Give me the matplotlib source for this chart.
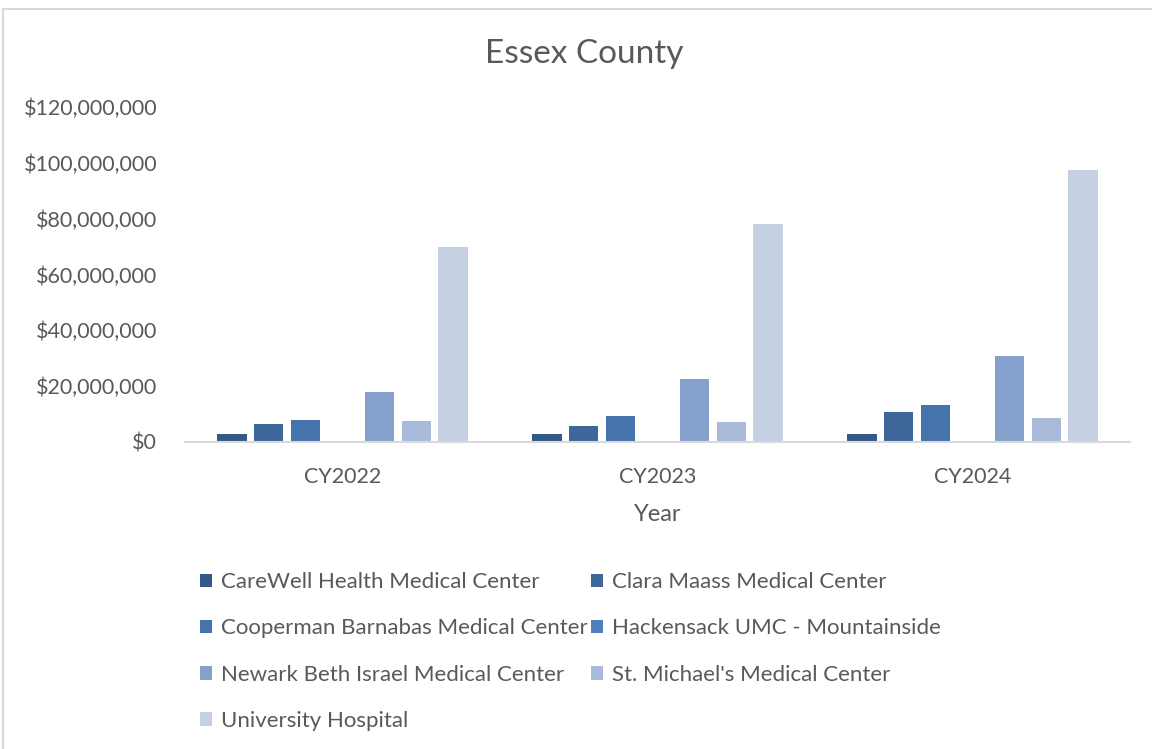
import matplotlib
matplotlib.use("Agg")
import matplotlib.pyplot as plt
import numpy as np
from matplotlib.patches import Rectangle
from matplotlib.ticker import FuncFormatter

plt.rcParams['font.family'] = ['Lato', 'DejaVu Sans']

years = ["CY2022", "CY2023", "CY2024"]
hospitals = [
    "CareWell Health Medical Center",
    "Clara Maass Medical Center",
    "Cooperman Barnabas Medical Center",
    "Hackensack UMC - Mountainside",
    "Newark Beth Israel Medical Center",
    "St. Michael's Medical Center",
    "University Hospital",
]
carewell = [3.0e6, 2.8e6, 2.9e6]
clara_maass = [6.4e6, 5.6e6, 10.7e6]
cooperman = [7.8e6, 9.4e6, 13.2e6]
hackensack = [0.5e6, 0, 0]
newark_beth = [18.0e6, 22.5e6, 30.8e6]
st_michaels = [7.5e6, 7.1e6, 8.6e6]
university = [69.9e6, 78.1e6, 97.5e6]
series = [carewell, clara_maass, cooperman, hackensack, newark_beth, st_michaels, university]
colors = ["#335a86", "#3e6799", "#4673ab", "#4f7fbd", "#84a0cb", "#a9badb", "#c5d0e3"]

text_color = "#595959"
fig = plt.figure(figsize=(11.52, 7.49), dpi=100)
ax = fig.add_axes([185 / 1152, 1 - 442 / 749, 945 / 1152, 335 / 749])

x = np.arange(len(years))
slot = 0.1172
width = 0.094
handles = []
for i, (vals, c) in enumerate(zip(series, colors)):
    off = (i - 3) * slot
    b = ax.bar(x + off, vals, width, color=c, label=hospitals[i], linewidth=0)
    handles.append(b)

ax.set_xlim(-0.5, 2.5)
ax.set_ylim(0, 120e6)
ax.set_yticks(np.arange(0, 120e6 + 1, 20e6))
ax.yaxis.set_major_formatter(FuncFormatter(lambda v, p: "${:,.0f}".format(v)))
ax.set_xticks(x)
ax.set_xticklabels(years)
for s in ["top", "right", "left"]:
    ax.spines[s].set_visible(False)
ax.spines["bottom"].set_color("#d9d9d9")
ax.spines["bottom"].set_linewidth(1.5)
ax.tick_params(axis="both", length=0, labelsize=15.5, labelcolor=text_color)
ax.tick_params(axis="x", pad=18)
ax.tick_params(axis="y", pad=20)
ax.set_xlabel("Year", fontsize=17, color=text_color, labelpad=12)

fig.text(0.507, 0.928, "Essex County", ha="center", va="center", fontsize=24, color=text_color)

order = [0, 2, 4, 6, 1, 3, 5]
leg = fig.legend([handles[i] for i in order], [hospitals[i] for i in order],
                 ncol=2, loc="upper left", bbox_to_anchor=(0.1735, 0.236),
                 frameon=False, fontsize=16, labelcolor=text_color,
                 handlelength=0.55, handleheight=0.55, handletextpad=0.4,
                 columnspacing=0.15, labelspacing=1.18, borderaxespad=0, borderpad=0)

fig.add_artist(Rectangle((3 / 1152, -0.1), 1.2, 1 - 9 / 749 + 0.1, transform=fig.transFigure,
                         fill=False, edgecolor="#d9d9d9", linewidth=1.5))

fig.savefig("out.png", dpi=100)
